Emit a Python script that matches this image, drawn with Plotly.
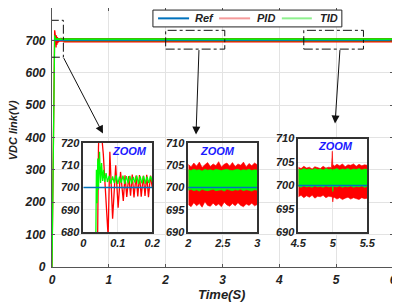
import plotly.graph_objects as go

# ---------------- data ----------------
ref_t = [0, 6]
ref_v = [700, 700]

# start-up transient (0 - 0.2 s)
pid_t = [0.000, 0.040, 0.044, 0.047, 0.050, 0.054, 0.058, 0.063, 0.068, 0.072,
         0.077, 0.085, 0.094, 0.101, 0.108, 0.116,
         0.121, 0.126, 0.132, 0.137, 0.142, 0.147, 0.153, 0.158, 0.163, 0.168,
         0.174, 0.179, 0.184, 0.189, 0.195, 0.200]
pid_v = [0, 680, 718, 731, 728, 722, 715, 700, 688, 678,
         716, 686, 710, 691, 707, 694,
         705.5, 695.8, 705.2, 696.3, 705.8, 695.6, 705.4, 696.0, 705.6, 695.9,
         705.3, 696.2, 705.7, 695.7, 705.4, 700.0]

tid_t = [0.000, 0.036, 0.038, 0.040, 0.042, 0.044, 0.047, 0.050, 0.053, 0.056,
         0.059, 0.062, 0.066, 0.070,
         0.075, 0.080, 0.085, 0.090, 0.095, 0.100, 0.105, 0.110, 0.115, 0.120,
         0.125, 0.130, 0.135, 0.140, 0.145, 0.150, 0.155, 0.160, 0.165, 0.170,
         0.175, 0.180, 0.185, 0.190, 0.195, 0.200]
tid_v = [0, 680, 708, 693, 713, 699, 716, 702, 711, 703,
         708, 702.5, 706.5, 702.5,
         705.2, 701.8, 705.0, 702.0, 705.4, 701.6, 704.9, 702.1, 705.3, 701.7,
         705.1, 701.9, 705.2, 701.8, 704.8, 702.2, 705.3, 701.7, 705.0, 701.9,
         705.2, 701.8, 704.9, 702.0, 705.1, 702.5]

# steady state envelope (0.2 - 6 s)
ss_t = [0.2, 6.0]
pid_ss_hi = [705.0, 705.0]
pid_ss_lo = [696.0, 696.0]
tid_ss_hi = [704.0, 704.0]
tid_ss_lo = [699.5, 699.5]

# zoom 2-3 s envelope
t2 = [2.00, 2.04, 2.08, 2.12, 2.16, 2.20, 2.24, 2.28, 2.32, 2.36, 2.40, 2.44, 2.48,
      2.52, 2.56, 2.60, 2.64, 2.68, 2.72, 2.76, 2.80, 2.84, 2.88, 2.92, 2.96, 3.00]
pid_hi2 = [705.2, 704.6, 705.5, 704.8, 705.7, 704.5, 705.1, 705.6, 704.7, 705.3, 704.9, 705.8, 704.6,
           705.2, 705.5, 704.8, 705.6, 704.7, 705.3, 705.0, 705.7, 704.6, 705.4, 704.9, 705.5, 705.1]
pid_lo2 = [696.2, 695.7, 696.6, 695.9, 696.4, 695.6, 696.8, 696.0, 695.8, 696.5, 695.9, 696.3, 695.7,
           696.7, 696.1, 695.8, 696.4, 695.9, 696.6, 696.0, 695.7, 696.3, 696.0, 696.5, 695.9, 696.2]
tid_hi2 = [704.0, 703.8, 704.1, 703.9, 704.0, 703.7, 704.1, 703.9, 704.0, 703.8, 704.1, 703.9, 703.8,
           704.0, 704.1, 703.9, 703.8, 704.0, 704.1, 703.8, 704.0, 703.9, 704.1, 703.8, 704.0, 703.9]
tid_lo2 = [699.4, 699.6, 699.3, 699.5, 699.2, 699.6, 699.4, 699.3, 699.5, 699.6, 699.3, 699.4, 699.5,
           699.2, 699.6, 699.4, 699.3, 699.5, 699.4, 699.6, 699.3, 699.5, 699.4, 699.2, 699.5, 699.4]

# zoom 4.5-5.5 s envelope (load step at 5 s)
t3 = [4.50, 4.54, 4.58, 4.62, 4.66, 4.70, 4.74, 4.78, 4.82, 4.86, 4.90, 4.94, 4.98, 4.993, 5.000,
      5.007, 5.02, 5.06, 5.10, 5.14, 5.18, 5.22, 5.26, 5.30, 5.34, 5.38, 5.42, 5.46, 5.50]
pid_hi3 = [703.9, 703.6, 704.1, 703.7, 703.9, 703.5, 704.0, 703.8, 703.6, 704.1, 703.7, 703.9, 703.8, 707.3, 704.2,
           704.4, 704.1, 704.5, 704.2, 704.6, 704.0, 704.4, 704.3, 704.6, 704.1, 704.5, 704.2, 704.4, 704.3]
pid_lo3 = [697.6, 697.9, 697.4, 697.8, 697.5, 697.9, 697.3, 697.7, 697.6, 697.9, 697.4, 697.7, 697.6, 697.5, 696.5,
           697.3, 697.5, 697.1, 697.4, 697.0, 697.3, 697.5, 697.1, 697.4, 697.2, 697.0, 697.4, 697.2, 697.3]
tid_hi3 = [703.5, 703.3, 703.6, 703.4, 703.5, 703.3, 703.6, 703.4, 703.5, 703.3, 703.6, 703.4, 703.5, 703.4, 703.2,
           703.5, 703.4, 703.6, 703.3, 703.5, 703.4, 703.6, 703.3, 703.5, 703.4, 703.6, 703.3, 703.5, 703.4]
tid_lo3 = [699.8, 699.6, 699.9, 699.7, 699.8, 699.6, 699.9, 699.7, 699.8, 699.6, 699.9, 699.7, 699.8, 699.7, 698.7,
           699.6, 699.8, 699.7, 699.9, 699.6, 699.8, 699.7, 699.9, 699.6, 699.8, 699.7, 699.9, 699.6, 699.8]

x_ticks_main = [0, 1, 2, 3, 4, 5, 6]
y_ticks_main = [0, 100, 200, 300, 400, 500, 600, 700, 800]
in1_x, in1_y = [0, 0.2], [680, 720]
in2_x, in2_y = [2, 3], [690, 710]
in3_x, in3_y = [4.5, 5.5], [690, 710]
in1_xt, in1_xl = [0, 0.1, 0.2], ["0", "0.1", "0.2"]
in2_xt, in2_xl = [2, 2.5, 3], ["2", "2.5", "3"]
in3_xt, in3_xl = [4.5, 5, 5.5], ["4.5", "5", "5.5"]
in1_yt = [680, 690, 700, 710, 720]
in23_yt = [690, 695, 700, 705, 710]
legend_names = ["Ref", "PID", "TID"]

RED = "#ff0000"
GREEN = "#00ff00"
BLUE = "#0072BD"
LEG_COLORS = [BLUE, "#f49a9a", "#8ef08e"]
FONT = "Liberation Sans"


def band(t, hi, lo):
    return list(t) + list(t)[::-1], list(hi) + list(lo)[::-1]


fig = go.Figure()


def add_line(t, v, color, xa, ya, width=1.2):
    fig.add_trace(go.Scatter(x=t, y=v, mode="lines", line=dict(color=color, width=width),
                             xaxis=xa, yaxis=ya, showlegend=False, hoverinfo="skip"))


def add_band(t, hi, lo, color, xa, ya, lw=0.6):
    bx, by = band(t, hi, lo)
    fig.add_trace(go.Scatter(x=bx, y=by, mode="lines", fill="toself", fillcolor=color,
                             line=dict(color=color, width=lw), xaxis=xa, yaxis=ya,
                             showlegend=False, hoverinfo="skip"))


# main axes
add_line(pid_t, pid_v, RED, "x", "y", 1.3)
add_band(ss_t, pid_ss_hi, pid_ss_lo, RED, "x", "y", 1.5)
add_line(tid_t, tid_v, GREEN, "x", "y", 1.3)
add_band(ss_t, tid_ss_hi, tid_ss_lo, GREEN, "x", "y", 1.5)
add_line(ref_t, ref_v, BLUE, "x", "y", 1.0)

# inset 1
add_line(pid_t, pid_v, RED, "x2", "y2", 1.3)
add_line(tid_t, tid_v, GREEN, "x2", "y2", 1.3)
add_line(ref_t, ref_v, BLUE, "x2", "y2", 1.6)
# inset 2
add_band(t2, pid_hi2, pid_lo2, RED, "x3", "y3")
add_band(t2, tid_hi2, tid_lo2, GREEN, "x3", "y3")
add_line(ref_t, ref_v, BLUE, "x3", "y3", 1.6)
# inset 3
add_band(t3, pid_hi3, pid_lo3, RED, "x4", "y4")
add_band(t3, tid_hi3, tid_lo3, GREEN, "x4", "y4")
add_line(ref_t, ref_v, BLUE, "x4", "y4", 1.6)

tick_font = dict(family=FONT, size=12, color="#222", weight="bold", style="italic")
in_font = dict(family=FONT, size=11, color="#222", weight="bold", style="italic")

main_ax = dict(showline=True, mirror="ticks", linecolor="#555", linewidth=1.2,
               ticks="inside", ticklen=3, tickcolor="#555", showgrid=True,
               gridcolor="#e3e3e3", gridwidth=1, zeroline=False, tickfont=tick_font,
               automargin=False)
in_ax = dict(showline=True, mirror=True, linecolor="#333", linewidth=1.5,
             ticks="", showgrid=True, gridcolor="#e6e6e6", gridwidth=1,
             zeroline=False, tickfont=in_font, automargin=False)

dom1_x = [0.0918, 0.294]
dom2_x = [0.3997, 0.602]
dom3_x = [0.7223, 0.9246]
dom12_y = [0.1346, 0.479]
dom3_y = [0.1335, 0.496]

# page body has an 8px margin: figure is sized so the plot area lands where the reference has it
fig.update_layout(
    width=392, height=296, margin=dict(l=44, r=7, t=0, b=37, autoexpand=False),
    paper_bgcolor="white", plot_bgcolor="white",
    xaxis=dict(range=[0, 6], tickvals=x_ticks_main, ticklabelstandoff=1, **main_ax),
    yaxis=dict(range=[0, 800], tickvals=y_ticks_main, ticklabelstandoff=3, **main_ax),
    xaxis2=dict(domain=dom1_x, anchor="y2", range=in1_x, tickvals=in1_xt, ticktext=in1_xl, **in_ax),
    yaxis2=dict(domain=dom12_y, anchor="x2", range=in1_y, tickvals=in1_yt, **in_ax),
    xaxis3=dict(domain=dom2_x, anchor="y3", range=in2_x, tickvals=in2_xt, ticktext=in2_xl, **in_ax),
    yaxis3=dict(domain=dom12_y, anchor="x3", range=in2_y, tickvals=in23_yt, **in_ax),
    xaxis4=dict(domain=dom3_x, anchor="y4", range=in3_x, tickvals=in3_xt, ticktext=in3_xl, **in_ax),
    yaxis4=dict(domain=dom3_y, anchor="x4", range=in3_y, tickvals=in23_yt, **in_ax),
    showlegend=False,
)

shapes = []
# opaque inset backgrounds
for xa, ya, xr, yr in [("x2", "y2", in1_x, in1_y), ("x3", "y3", in2_x, in2_y), ("x4", "y4", in3_x, in3_y)]:
    shapes.append(dict(type="rect", xref=xa, yref=ya, x0=xr[0], x1=xr[1], y0=yr[0], y1=yr[1],
                       fillcolor="white", line=dict(width=0), layer="below"))
# zoom-window indicators on main axes
for x0, x1, y0, y1 in [(-0.02, 0.2, 648, 762), (2.0, 3.04, 673, 731), (4.43, 5.48, 673, 731)]:
    shapes.append(dict(type="rect", xref="x", yref="y", x0=x0, x1=x1, y0=y0, y1=y1,
                       line=dict(color="#111", width=1, dash="dashdot"), fillcolor="rgba(0,0,0,0)"))
# legend box and samples
shapes.append(dict(type="rect", xref="paper", yref="paper", x0=0.296, x1=0.850, y0=0.927, y1=0.992,
                   fillcolor="white", line=dict(color="#222", width=1), layer="above"))
leg_line_x = [(0.311, 0.402), (0.490, 0.581), (0.674, 0.762)]
for (x0, x1), col in zip(leg_line_x, LEG_COLORS):
    shapes.append(dict(type="line", xref="paper", yref="paper", x0=x0, x1=x1, y0=0.960, y1=0.960,
                       line=dict(color=col, width=2), layer="above"))
fig.update_layout(shapes=shapes)

ann = []
leg_font = dict(family=FONT, size=11, color="#222", weight="bold", style="italic")
for x, name in zip([0.4135, 0.595, 0.780], legend_names):
    ann.append(dict(x=x, y=0.960, xref="paper", yref="paper", text=name, showarrow=False,
                    xanchor="left", yanchor="middle", font=leg_font))
for (x, y, ax, ay) in [(0.897, 412, -40, -77), (2.534, 409, 3, -86), (4.98, 443, 5, -75)]:
    ann.append(dict(x=x, y=y, xref="x", yref="y", ax=ax, ay=ay, text="", showarrow=True,
                    arrowhead=2, arrowsize=1.6, arrowwidth=1, arrowcolor="#111"))
zoom_font = dict(family=FONT, size=11, color="#1a1aff", weight="bold", style="italic")
for (x, y) in [(0.2287, 0.446), (0.4839, 0.446), (0.8328, 0.469)]:
    ann.append(dict(x=x, y=y, xref="paper", yref="paper", text="ZOOM", showarrow=False,
                    font=zoom_font, xanchor="center", yanchor="middle"))
ann.append(dict(x=-0.115, y=0.527, xref="paper", yref="paper", text="VDC link(V)", textangle=-90,
                showarrow=False, xanchor="center", yanchor="middle",
                font=dict(family=FONT, size=11, color="#222", weight="bold", style="italic")))
ann.append(dict(x=0.4985, y=-0.107, xref="paper", yref="paper", text="Time(S)", showarrow=False,
                xanchor="center", yanchor="middle",
                font=dict(family=FONT, size=13, color="#222", weight="bold", style="italic")))
fig.update_layout(annotations=ann)

fig.write_html("out.html")
